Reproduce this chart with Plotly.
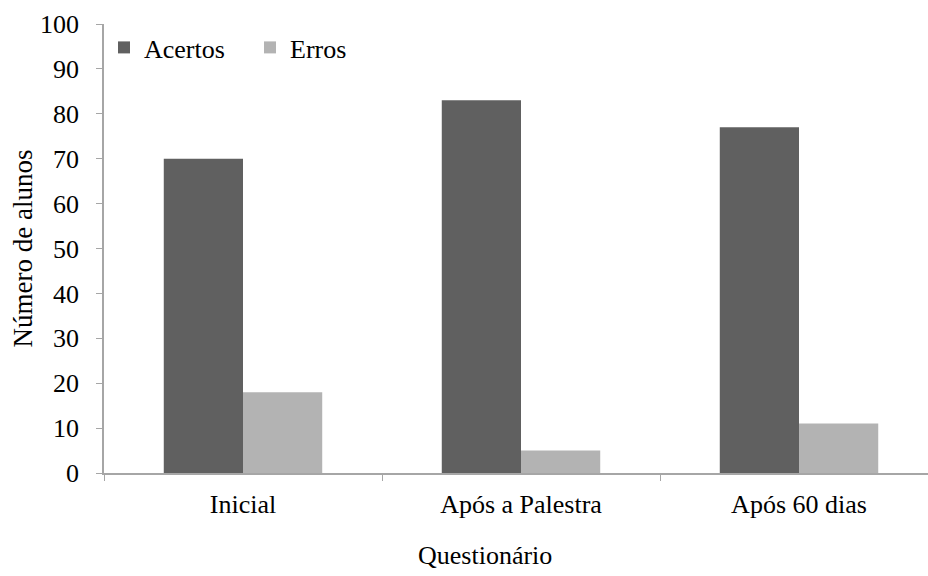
import plotly.graph_objects as go

categories = ["Inicial", "Após a Palestra", "Após 60 dias"]
acertos = [70, 83, 77]
erros = [18, 5, 11]
series_names = ["Acertos", "Erros"]
y_ticks = list(range(0, 101, 10))

FONT = "Liberation Serif"
AXIS_COLOR = "#a6a6a6"

fig = go.Figure()
fig.add_trace(go.Bar(x=categories, y=acertos, name=series_names[0],
                     marker=dict(color="#606060", line=dict(width=0))))
fig.add_trace(go.Bar(x=categories, y=erros, name=series_names[1],
                     marker=dict(color="#b3b3b3", line=dict(width=0))))

fig.update_layout(
    width=928, height=576,
    margin=dict(l=104, r=0, t=24, b=103),
    paper_bgcolor="white", plot_bgcolor="white",
    font=dict(family=FONT, size=26, color="black"),
    barmode="group", bargap=0.43, bargroupgap=0,
    showlegend=True,
    legend=dict(orientation="h", x=0.0, y=1.0, xanchor="left", yanchor="top",
                font=dict(family=FONT, size=26), itemwidth=30, entrywidth=101,
                bgcolor="rgba(0,0,0,0)", traceorder="normal"),
    xaxis=dict(type="category", range=[-0.5, 2.464], showline=True,
               linecolor=AXIS_COLOR, linewidth=1.5, ticks="outside",
               tickson="boundaries", ticklen=6, tickcolor=AXIS_COLOR,
               showgrid=False, tickfont=dict(family=FONT, size=26),
               ticklabelstandoff=7),
    yaxis=dict(range=[0, 100], tickvals=y_ticks, showline=True,
               linecolor=AXIS_COLOR, linewidth=1.5, ticks="outside",
               ticklen=6, tickcolor=AXIS_COLOR, showgrid=False, zeroline=False,
               tickfont=dict(family=FONT, size=26), ticklabelstandoff=12),
    annotations=[
        dict(text="Número de alunos", xref="paper", yref="paper",
             x=(22 - 104) / 824, y=0.5, textangle=-90, showarrow=False,
             font=dict(family=FONT, size=27), xanchor="center", yanchor="middle"),
        dict(text="Questionário", xref="paper", yref="paper",
             x=(485 - 104) / 824, y=-(555 - 473) / 449, showarrow=False,
             font=dict(family=FONT, size=26), xanchor="center", yanchor="middle"),
    ],
)

fig.write_html(
    "out.html",
    config={"displayModeBar": False},
    post_script="document.body.style.margin='0';document.body.style.overflow='hidden';",
)
